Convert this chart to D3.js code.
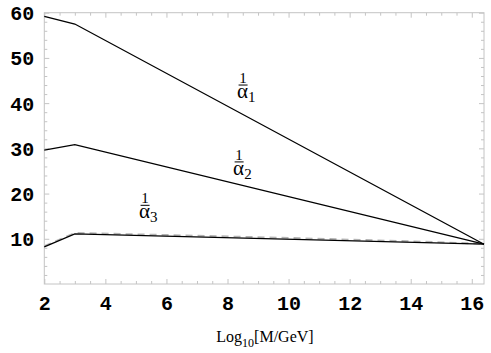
<!DOCTYPE html>
<html><head><meta charset="utf-8">
<script src="https://cdn.jsdelivr.net/npm/d3@7"></script>
<style>body{margin:0;background:#fff}svg{display:block}</style>
</head><body>
<script>
// data
const xPoints = [2, 3, 16.4];
const invAlpha1 = [59.2, 57.5, 8.8];
const invAlpha2 = [29.6, 30.8, 8.8];
const invAlpha3 = [8.2, 11.1, 8.8];
const dashedX = [2, 3, 6, 10, 14, 16.4];
const dashedY = [8.4, 11.3, 10.85, 10.2, 9.45, 8.9];
const xTicks = [2, 4, 6, 8, 10, 12, 14, 16];
const yTicks = [10, 20, 30, 40, 50, 60];
const labels = [
  {x: 8.51, y: 44.0, sub: "1"},
  {x: 8.38, y: 27.0, sub: "2"},
  {x: 5.3, y: 17.4, sub: "3"}
];

const W = 491, H = 353;
const svg = d3.select("body").append("svg").attr("width", W).attr("height", H);
const x = d3.scaleLinear().domain([2, 16.4]).range([44.3, 484]);
const y = d3.scaleLinear().domain([0, 60]).range([284, 12.7]);

const gray = "#c4c4c4";
const xMinor = d3.range(2, 16.41, 0.5).filter(v => v % 2 !== 0);
const yMinor = d3.range(0, 60.1, 2).filter(v => v % 10 !== 0);

function styleAxis(g) {
  g.select(".domain").remove();
  g.selectAll("line").attr("stroke", gray).attr("stroke-width", 1);
}
// bottom
svg.append("g").attr("transform", `translate(0,${y(0)})`)
  .call(d3.axisBottom(x).tickValues(xTicks).tickSize(-5).tickPadding(12).tickFormat(d3.format("d")))
  .call(styleAxis)
  .selectAll("text").attr("font-family", "Liberation Mono").attr("font-weight", "bold")
  .attr("font-size", 20).attr("fill", "#000").attr("dy", "0.71em");
svg.append("g").attr("transform", `translate(0,${y(0)})`)
  .call(d3.axisBottom(x).tickValues(xMinor).tickSize(-3).tickFormat(""))
  .call(styleAxis);
// top
svg.append("g").attr("transform", `translate(0,${y(60)})`)
  .call(d3.axisTop(x).tickValues(xTicks).tickSize(-5).tickFormat(""))
  .call(styleAxis);
svg.append("g").attr("transform", `translate(0,${y(60)})`)
  .call(d3.axisTop(x).tickValues(xMinor).tickSize(-3).tickFormat(""))
  .call(styleAxis);
// left
svg.append("g").attr("transform", `translate(${x(2)},0)`)
  .call(d3.axisLeft(y).tickValues(yTicks).tickSize(-5).tickPadding(10).tickFormat(d3.format("d")))
  .call(styleAxis)
  .selectAll("text").attr("font-family", "Liberation Mono").attr("font-weight", "bold")
  .attr("font-size", 20).attr("fill", "#000").attr("dy", "0.35em");
svg.append("g").attr("transform", `translate(${x(2)},0)`)
  .call(d3.axisLeft(y).tickValues(yMinor).tickSize(-3).tickFormat(""))
  .call(styleAxis);
// right
svg.append("g").attr("transform", `translate(${x(16.4)},0)`)
  .call(d3.axisRight(y).tickValues(yTicks).tickSize(-5).tickFormat(""))
  .call(styleAxis);
svg.append("g").attr("transform", `translate(${x(16.4)},0)`)
  .call(d3.axisRight(y).tickValues(yMinor).tickSize(-3).tickFormat(""))
  .call(styleAxis);
// frame
svg.append("rect").attr("x", x(2)).attr("y", y(60)).attr("width", x(16.4) - x(2)).attr("height", y(0) - y(60))
  .attr("fill", "none").attr("stroke", gray).attr("stroke-width", 1);

const line = d3.line().x(d => x(d[0])).y(d => y(d[1]));
// dashed
svg.append("path").datum(d3.zip(dashedX, dashedY)).attr("d", line)
  .attr("fill", "none").attr("stroke", "#b4b4b4").attr("stroke-width", 1.8).attr("stroke-dasharray", "7,5");
[invAlpha1, invAlpha2, invAlpha3].forEach(s => {
  svg.append("path").datum(d3.zip(xPoints, s)).attr("d", line)
    .attr("fill", "none").attr("stroke", "#000").attr("stroke-width", 1.3);
});

// labels 1/alpha_i (one text element per fraction)
labels.forEach(l => {
  const cx = x(l.x), cy = y(l.y);
  const g = svg.append("g").attr("font-family", "Liberation Serif").attr("fill", "#000");
  g.append("line").attr("x1", cx - 4.5).attr("x2", cx + 4.5).attr("y1", cy).attr("y2", cy)
    .attr("stroke", "#000").attr("stroke-width", 1);
  const t = g.append("text");
  t.append("tspan").attr("x", cx).attr("y", cy - 2).attr("text-anchor", "middle").attr("font-size", 15).text("1");
  t.append("tspan").attr("x", cx - 6).attr("y", cy + 13).attr("text-anchor", "start").attr("font-size", 21).text("α");
  t.append("tspan").attr("font-size", 15).attr("dy", 4).text(l.sub);
});

// x title
const xt = svg.append("text").attr("x", 265).attr("y", 342).attr("text-anchor", "middle")
  .attr("font-family", "Liberation Serif").attr("font-size", 16).attr("fill", "#000");
xt.append("tspan").text("Log");
xt.append("tspan").attr("font-size", 12).attr("dy", 5).text("10");
xt.append("tspan").attr("dy", -5).text("[M/GeV]");
</script>
</body></html>
